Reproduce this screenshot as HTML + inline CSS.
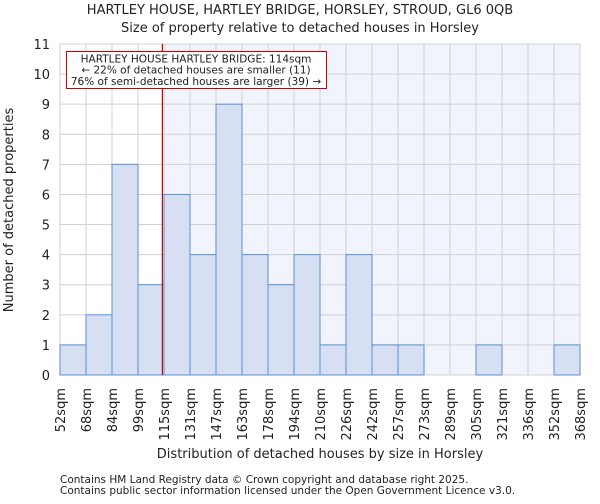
<!DOCTYPE html>
<html><head><meta charset="utf-8"><style>
body{margin:0;background:#fff;font-family:"DejaVu Sans","Liberation Sans",sans-serif;}
svg text{font-family:"DejaVu Sans","Liberation Sans",sans-serif;fill:#222;}
</style></head><body>
<svg id="c" width="600" height="500" xmlns="http://www.w3.org/2000/svg"></svg>
<script>
const labels=["52sqm","68sqm","84sqm","99sqm","115sqm","131sqm","147sqm","163sqm","178sqm","194sqm","210sqm","226sqm","242sqm","257sqm","273sqm","289sqm","305sqm","321sqm","336sqm","352sqm","368sqm"];
const counts=[1,2,7,3,6,4,9,4,3,4,1,4,1,1,0,0,1,0,0,1];
const yTicks=[0,1,2,3,4,5,6,7,8,9,10,11];
const markerBin=3+15/16;
const NS="http://www.w3.org/2000/svg";
const svg=document.getElementById('c');
const X0=60,X1=580,Y0=375,Y1=44,YMAX=11;
const bw=(X1-X0)/counts.length;
const xs=i=>X0+i*bw;
const ys=v=>Y0-(Y0-Y1)*v/YMAX;
function el(t,a,txt){const e=document.createElementNS(NS,t);for(const k in a)e.setAttribute(k,a[k]);if(txt!==undefined)e.textContent=txt;svg.appendChild(e);return e;}
const mx=xs(markerBin);
let e=el('rect',{x:X0,y:Y1,width:X1-X0,height:Y0-Y1,fill:'#fff'});


e=el('rect',{x:mx,y:Y1,width:X1-mx,height:Y0-Y1,fill:'#f1f4fc'});


for(const t of yTicks){
  e=el('line',{x1:X0,x2:X1,y1:ys(t),y2:ys(t),stroke:'#d0d0d0','stroke-width':1});
  
  
  e=el('text',{x:X0-10,y:ys(t)+5,'text-anchor':'end','font-size':13},t);
  
  
}
for(let i=0;i<=counts.length;i++){
  e=el('line',{x1:xs(i),x2:xs(i),y1:Y1,y2:Y0,stroke:'#d0d0d0','stroke-width':1});
  
  
}
counts.forEach((c,i)=>{
  if(c<=0)return;
  const b=el('rect',{x:xs(i),y:ys(c),width:bw,height:Y0-ys(c),fill:'#d6e0f2',stroke:'#5b8fd6','stroke-width':1});
  
  
});
labels.forEach((l,i)=>{
  const x=xs(i);
  const t=el('text',{x:0,y:0,'text-anchor':'end','font-size':13,transform:`translate(${x+5},388) rotate(-90)`},l);
  
  
});
e=el('line',{x1:mx,x2:mx,y1:Y1,y2:Y0,stroke:'#cc0000','stroke-width':1.2});


e=el('rect',{x:66.5,y:51.5,width:260,height:37,fill:'#fff',stroke:'#cc0000','stroke-width':1});


const ann=["HARTLEY HOUSE HARTLEY BRIDGE: 114sqm","← 22% of detached houses are smaller (11)","76% of semi-detached houses are larger (39) →"];
ann.forEach((a,i)=>{e=el('text',{x:196,y:62.5+i*11.2,'text-anchor':'middle','font-size':10.5},a);

});
e=el('text',{x:300,y:14,'text-anchor':'middle','font-size':13},"HARTLEY HOUSE, HARTLEY BRIDGE, HORSLEY, STROUD, GL6 0QB");


e=el('text',{x:300,y:32,'text-anchor':'middle','font-size':13},"Size of property relative to detached houses in Horsley");


e=el('text',{x:320,y:458,'text-anchor':'middle','font-size':13},"Distribution of detached houses by size in Horsley");


e=el('text',{x:0,y:0,'text-anchor':'middle','font-size':13,transform:'translate(13,210) rotate(-90)'},"Number of detached properties");


e=el('text',{x:60,y:483,'font-size':10.5},"Contains HM Land Registry data © Crown copyright and database right 2025.");


e=el('text',{x:60,y:494,'font-size':10.5},"Contains public sector information licensed under the Open Government Licence v3.0.");


</script>
</body></html>
